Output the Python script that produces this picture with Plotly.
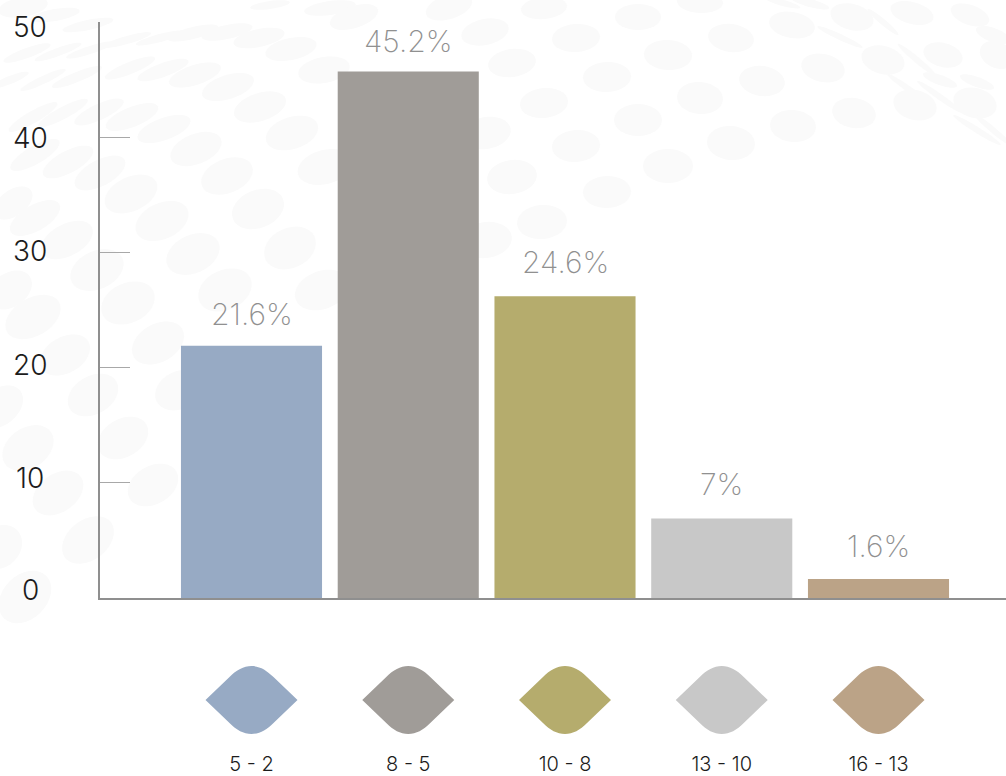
import math
import plotly.graph_objects as go

categories = ["5 - 2", "8 - 5", "10 - 8", "13 - 10", "16 - 13"]
bar_heights = [21.9, 45.7, 26.2, 6.9, 1.65]
bar_labels = ["21.6%", "45.2%", "24.6%", "7%", "1.6%"]
bar_colors = ["#97aac4", "#a09c98", "#b5ac6d", "#c8c8c8", "#bba387"]
y_ticks = [0, 10, 20, 30, 40, 50]

W, H, L, T, B = 1006, 776, 100, 22, 178
plot_w, plot_h = W - L, H - T - B
pitch = 156.75
x_range = [(L - 251.5) / pitch, (W - 251.5) / pitch]

# background texture: (x, y, semi-major, semi-minor, tilt) in page pixels
texture = [
 (290,248,27,20,25),(322,290,28,19,20),(225,290,28,20,25),(128,303,28,20,25),(33,317,30,19,30),(193,254,28,19,25),
 (97,270,28,19,25),(10,290,24,17,35),(258,209,27,19,22),(162,221,28,18,25),(67,240,28,16,28),(35,218,28,13,30),
 (131,194,28,17,25),(227,176,27,17,22),(325,167,28,17,15),(292,133,27,16,18),(196,149,27,15,22),(100,173,28,13,28),
 (68,162,28,11,28),(35,155,28,9,30),(13,203,22,13,35),(164,129,28,11,20),(260,107,27,14,18),(132,117,28,10,22),
 (228,87,27,12,18),(99,112,27,8,25),(195,75,27,10,18),(324,70,26,13,10),(291,49,26,11,12),(259,38,26,9,12),
 (163,70,27,7,20),(130,68,27,6,22),(227,32,26,7,12),(193,33,26,6,14),(63,113,28,6,28),(33,117,28,6,30),
 (77,77,27,5,22),(43,80,25,4,25),(27,53,25,5,20),(58,52,25,4,20),(90,50,25,4,18),(160,38,25,4,15),(127,40,25,4,16),
 (55,15,25,6,10),(88,25,26,5,12),(23,7,25,10,10),(330,8,26,7,8),(270,5,20,4,8),(10,80,20,4,22),
 (158,343,28,19,30),(93,395,27,19,30),(123,438,27,19,30),(153,485,27,19,30),(65,355,27,18,30),(0,407,26,18,40),
 (28,448,28,20,35),(58,493,28,19,35),(88,540,29,20,38),(25,597,30,22,45),(0,547,24,20,45),(180,390,26,19,25),
 (354,17,25,11,18),(449,7,24,12,18),(485,32,24,13,12),(486,133,25,16,10),(486,240,26,18,8),(512,63,24,14,8),
 (512,177,25,17,8),(544,8,23,11,6),(544,103,24,15,6),(542,222,25,17,5),(576,38,24,14,4),(576,146,24,16,4),
 (607,77,24,15,2),(607,192,24,16,2),(638,17,23,13,0),(638,120,24,16,0),
 (700,2,23,11,-3),(731,38,23,14,-8),(668,55,24,15,-3),(792,25,23,13,-10),(823,68,22,14,-12),(762,81,23,15,-8),
 (700,98,23,16,-5),(854,113,22,15,-10),(793,126,23,16,-5),(731,143,24,17,-5),(668,166,25,17,0),(915,105,22,15,-15),
 (883,60,22,14,-15),(852,17,22,13,-15),(975,103,22,15,-15),(943,55,20,12,-15),(912,13,22,11,-15),(970,15,20,10,-20),
 (997,55,18,13,-25),(993,35,18,7,-20),(977,82,18,5,-20),(840,37,25,3,-25),(883,22,20,3,-40),(917,60,25,3,-40),
 (910,90,28,3,-35),(940,97,28,3,-35),(977,130,28,3,-32),(993,130,25,3,-40),(940,80,18,5,-20),(783,3,18,3,-15),
 (810,3,20,4,-15),
]


def ellipse_path(a, b, tilt):
    t = math.radians(tilt)
    pts = []
    for i in range(32):
        u = 2 * math.pi * i / 32
        px = a * math.cos(u) * math.cos(t) - b * math.sin(u) * math.sin(t)
        py = a * math.cos(u) * math.sin(t) + b * math.sin(u) * math.cos(t)
        pts.append(f"{px:.1f} {py:.1f}")
    return "M " + " L ".join(pts) + " Z"


shapes = []
for px, py, a, b, tilt in texture:
    shapes.append(dict(type="path", layer="below", xref="paper", yref="paper",
                       xsizemode="pixel", ysizemode="pixel",
                       xanchor=(px - L) / plot_w, yanchor=(H - B - py) / plot_h,
                       path=ellipse_path(a, b, tilt),
                       fillcolor="#fafafa", line_width=0))

leaf = ("M -46 -102 L -22 -79 C -15 -72 -8 -68 0 -68 C 8 -68 15 -72 22 -79 L 46 -102 "
        "L 22 -125 C 15 -132 8 -136 0 -136 C -8 -136 -15 -132 -22 -125 Z")
for i, color in enumerate(bar_colors):
    shapes.append(dict(type="path", layer="above", xref="x", yref="paper",
                       xsizemode="pixel", ysizemode="pixel", xanchor=i, yanchor=0,
                       path=leaf, fillcolor=color, line_width=0))

annotations = [dict(xref="paper", yref="y", x=(30 - L) / plot_w, y=v, text=str(v),
                    showarrow=False, xanchor="center", yanchor="middle",
                    yshift=s, font=dict(family="Inter", size=28, color="#1c1c1c", weight=300))
               for v, s in zip(y_ticks, [8, 5, 3, 1, -1, -5])]
annotations += [dict(xref="x", yref="y", x=i, y=h, text=t, showarrow=False,
                     xanchor="center", yanchor="bottom", yshift=s,
                     font=dict(family="Inter", size=30, color="#909090", weight=200))
                for i, (h, t, s) in enumerate(zip(bar_heights, bar_labels, [12, 11, 14, 15, 13]))]

fig = go.Figure(go.Bar(
    x=list(range(len(categories))), y=bar_heights, width=0.9,
    marker=dict(color=bar_colors, line_width=0),
    hoverinfo="skip"))

fig.update_layout(
    width=W, height=H, margin=dict(l=L, r=0, t=T, b=B, pad=0),
    paper_bgcolor="white", plot_bgcolor="rgba(0,0,0,0)", showlegend=False,
    shapes=shapes, annotations=annotations,
    xaxis=dict(range=x_range, tickmode="array", tickvals=list(range(len(categories))),
               ticktext=categories, ticks="", showgrid=False, zeroline=False, automargin=False,
               showline=True, linecolor="#8f8f8f", linewidth=1.5,
               ticklabelstandoff=147, tickfont=dict(family="Inter", size=20, color="#1c1c1c", weight=300)),
    yaxis=dict(range=[0, 50], tickvals=y_ticks, showticklabels=False, ticks="inside", ticklen=30,
               automargin=False, tickcolor="#a8a8a8", tickwidth=1, showgrid=False, zeroline=False,
               showline=True, linecolor="#8f8f8f", linewidth=1.5),
)

fig.write_html("out.html", config={"displayModeBar": False},
               post_script="document.body.style.margin='0';document.documentElement.style.overflow='hidden';")
